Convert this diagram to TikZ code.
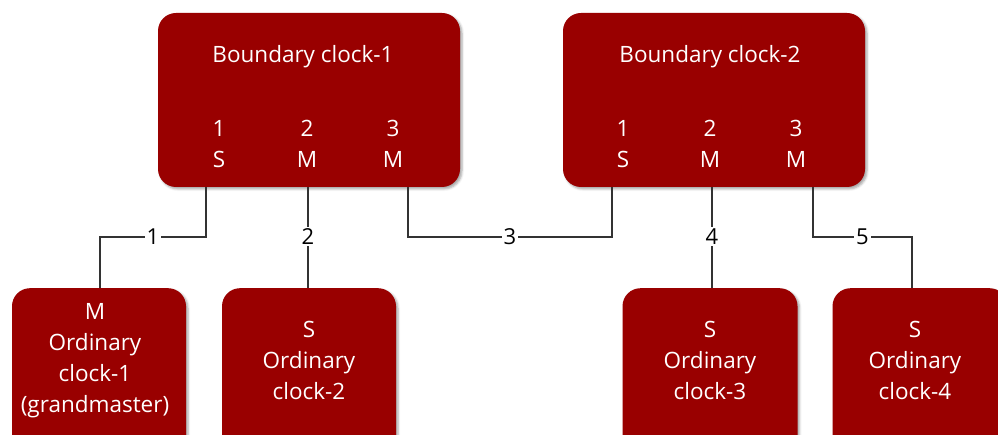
\documentclass[tikz,border=0pt]{standalone}
\usepackage{xcolor}
\usepackage{fontspec}
\setmainfont{Open Sans}
\usepackage{tikz}
\usetikzlibrary{shadows.blur}
\definecolor{clockred}{HTML}{990000}
\definecolor{wire}{HTML}{333333}

\begin{document}
\begin{tikzpicture}[x=1pt,y=-1pt,
    clockbox/.style={fill=clockred,rounded corners=18pt,draw=none,
        blur shadow={shadow xshift=2pt,shadow yshift=-2pt,shadow opacity=35,shadow blur steps=4}},
    clocktext/.style={text=white,font=\fontsize{22.5}{31}\selectfont,align=center,inner sep=0pt},
    wirelabel/.style={fill=white,text=black,font=\fontsize{22}{22}\selectfont,inner sep=2pt}]
    \useasboundingbox (0,0) rectangle (998,435);
    % boundary clocks
    \node[clockbox,minimum width=302pt,minimum height=174pt] (bc1) at (309,100) {};
    \node[clockbox,minimum width=302pt,minimum height=174pt] (bc2) at (714,100) {};
    \node[clocktext] (bc1name) at (303,57) {Boundary clock-1};
    \node[clocktext] (bc2name) at (710,57) {Boundary clock-2};
    \node[clocktext] (bc1p1) at (219,144) {1\\S};
    \node[clocktext] (bc1p2) at (307,144) {2\\M};
    \node[clocktext] (bc1p3) at (393,144) {3\\M};
    \node[clocktext] (bc2p1) at (623,144) {1\\S};
    \node[clocktext] (bc2p2) at (710,144) {2\\M};
    \node[clocktext] (bc2p3) at (796,144) {3\\M};
    % ordinary clocks
    \node[clockbox,minimum width=174pt,minimum height=200pt,anchor=north] (oc1) at (99,288) {};
    \node[clockbox,minimum width=174pt,minimum height=200pt,anchor=north] (oc2) at (309,288) {};
    \node[clockbox,minimum width=175pt,minimum height=200pt,anchor=north] (oc3) at (710,288) {};
    \node[clockbox,minimum width=175pt,minimum height=200pt,anchor=north] (oc4) at (920,288) {};
    \node[clocktext] (oc1txt) at (95,361) {M\\Ordinary\\clock-1\\(grandmaster)};
    \node[clocktext] (oc2txt) at (309,360) {S\\Ordinary\\clock-2};
    \node[clocktext] (oc3txt) at (710,360) {S\\Ordinary\\clock-3};
    \node[clocktext] (oc4txt) at (915,360) {S\\Ordinary\\clock-4};
    % port ends
    \coordinate (a1) at (206,187);
    \coordinate (a2) at (308,187);
    \coordinate (a3) at (408,187);
    \coordinate (b1) at (612,187);
    \coordinate (b2) at (712,187);
    \coordinate (b3) at (813,187);
    \coordinate (c1) at (100,288);
    \coordinate (c2) at (308,288);
    \coordinate (c3) at (712,288);
    \coordinate (c4) at (912,288);
    % links
    \draw[wire,line width=1.4pt] (a1) |- (c1|-0,237) node[wirelabel,pos=0.75] {1} -- (c1);
    \draw[wire,line width=1.4pt] (a2) -- (c2) node[wirelabel,pos=0.49] {2};
    \draw[wire,line width=1.4pt] (a3) |- (b1|-0,237) node[wirelabel,pos=0.75] {3} -- (b1);
    \draw[wire,line width=1.4pt] (b2) -- (c3) node[wirelabel,pos=0.49] {4};
    \draw[wire,line width=1.4pt] (b3) |- (c4|-0,237) node[wirelabel,pos=0.75] {5} -- (c4);
\end{tikzpicture}
\end{document}
